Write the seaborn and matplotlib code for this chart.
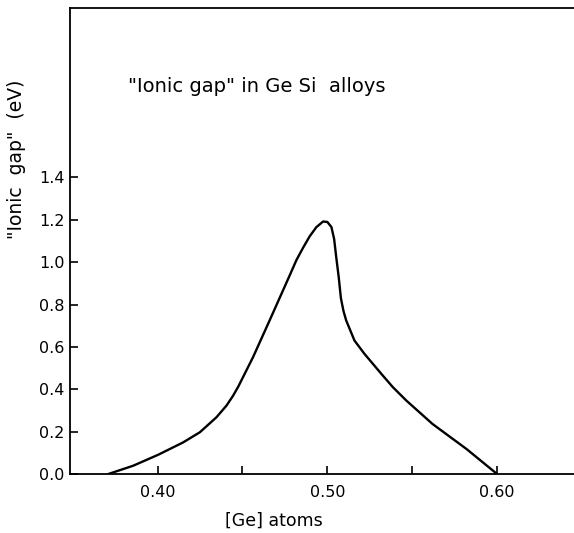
import matplotlib
matplotlib.use("Agg")
import matplotlib.pyplot as plt
import seaborn as sns
import pandas as pd
from matplotlib.ticker import FixedLocator

ge_fraction = [0.371, 0.3856, 0.4004, 0.415, 0.4249, 0.4347, 0.4406, 0.4445,
               0.4475, 0.4562, 0.466, 0.4739, 0.4778, 0.4818, 0.4857, 0.4896,
               0.4935, 0.4975, 0.5000, 0.5024, 0.5040, 0.5053, 0.5067, 0.5080,
               0.5095, 0.5111, 0.516, 0.5219, 0.5318, 0.5386, 0.5465, 0.562,
               0.582, 0.600]
ionic_gap = [0.0, 0.039, 0.091, 0.149, 0.197, 0.268, 0.323, 0.37,
             0.412, 0.551, 0.725, 0.867, 0.937, 1.01, 1.068, 1.122,
             1.165, 1.192, 1.19, 1.166, 1.11, 1.02, 0.93, 0.83,
             0.77, 0.725, 0.63, 0.567, 0.473, 0.41, 0.347, 0.236,
             0.118, 0.0]

x_major = [0.40, 0.50, 0.60]
x_major_labels = ["0.40", "0.50", "0.60"]
x_minor = [0.45, 0.55]
y_ticks = [0.0, 0.2, 0.4, 0.6, 0.8, 1.0, 1.2, 1.4]
y_tick_labels = ["0.0", "0.2", "0.4", "0.6", "0.8", "1.0", "1.2", "1.4"]

title_text = '"Ionic gap" in Ge Si  alloys'
x_label = "[Ge] atoms"
y_label = '"Ionic  gap"  (eV)'

sns.set_style("ticks")
plt.rcParams["font.family"] = ["DejaVu Sans"]

df = pd.DataFrame({"x": ge_fraction, "y": ionic_gap})

fig = plt.figure(figsize=(5.74, 5.33), dpi=100)
ax = fig.add_axes([70 / 574, (533 - 474) / 533, 1 - 70 / 574 + 0.002, (474 - 8) / 533])

sns.lineplot(data=df, x="x", y="y", ax=ax, color="black", linewidth=1.7, sort=False)
ax.lines[0].set_solid_joinstyle("round")

ax.set_xlim(0.3484, 0.646)
ax.set_ylim(0.0, 2.2)

ax.xaxis.set_major_locator(FixedLocator(x_major))
ax.set_xticklabels(x_major_labels)
ax.xaxis.set_minor_locator(FixedLocator(x_minor))
ax.set_yticks(y_ticks)
ax.set_yticklabels(y_tick_labels)

ax.tick_params(axis="both", which="both", direction="in", length=6, width=1.2,
               colors="black", labelsize=11.5)
ax.tick_params(axis="x", pad=8)
ax.tick_params(axis="y", pad=4)

for side in ["left", "bottom", "top"]:
    ax.spines[side].set_visible(True)
    ax.spines[side].set_linewidth(1.3)
    ax.spines[side].set_color("black")
ax.spines["right"].set_visible(False)

ax.set_xlabel(x_label, fontsize=12.5, color="black")
ax.set_ylabel(y_label, fontsize=13.5, color="black")
ax.xaxis.set_label_coords((273 - 70) / 504, -0.081)
ax.yaxis.set_label_coords(-0.088, 0.675)

ax.text((128 - 70) / 504, (474 - 86) / 466, title_text, transform=ax.transAxes,
        fontsize=14, ha="left", va="center", color="black")

fig.savefig("out.png", dpi=100)
